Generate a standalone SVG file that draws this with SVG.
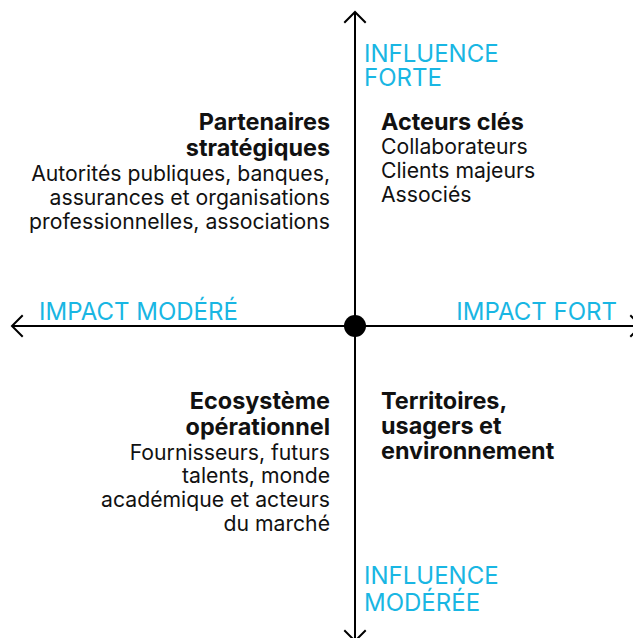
<svg xmlns="http://www.w3.org/2000/svg" width="633" height="638" viewBox="0 0 633 638">
<style>
.ax{stroke:#000;stroke-width:2;fill:none;stroke-linecap:square}
.lab{font-family:Inter,"Liberation Sans",sans-serif;font-size:24px;fill:#19b6e3}
.h{font-family:Inter,"Liberation Sans",sans-serif;font-size:23.4px;font-weight:700;fill:#111}
.t{font-family:Inter,"Liberation Sans",sans-serif;font-size:21.2px;fill:#111}
.r{text-anchor:end}
</style>
<rect width="633" height="638" fill="#fff"/>
<g id="connectors">
<line class="ax" x1="355" y1="13" x2="355" y2="640"/>
<line class="ax" x1="13" y1="326" x2="640" y2="326"/>
<polyline class="ax" points="345,22 355,12 365,22"/>
<polyline class="ax" points="345,631 355,641 365,631"/>
<polyline class="ax" points="22,316 12,326 22,336"/>
<polyline class="ax" points="631,316 641,326 631,336"/>
<circle cx="355" cy="326" r="11" fill="#000"/>
</g>
<g id="axis-labels">
<text class="lab" x="364" y="62">INFLUENCE</text>
<text class="lab" x="364" y="86">FORTE</text>
<text class="lab" x="364" y="584">INFLUENCE</text>
<text class="lab" x="364" y="611">MODÉRÉE</text>
<text class="lab" x="39" y="320">IMPACT MODÉRÉ</text>
<text class="lab r" x="617" y="320">IMPACT FORT</text>
</g>
<g id="partenaires">
<text class="h r" x="330" y="130">Partenaires</text>
<text class="h r" x="330" y="156">stratégiques</text>
<text class="t r" x="330" y="180.5">Autorités publiques, banques,</text>
<text class="t r" x="330" y="204.5">assurances et organisations</text>
<text class="t r" x="330" y="228.5">professionnelles, associations</text>
</g>
<g id="acteurs">
<text class="h" x="381" y="130">Acteurs clés</text>
<text class="t" x="381" y="154">Collaborateurs</text>
<text class="t" x="381" y="178">Clients majeurs</text>
<text class="t" x="381" y="202">Associés</text>
</g>
<g id="ecosysteme">
<text class="h r" x="330" y="409">Ecosystème</text>
<text class="h r" x="330" y="435">opérationnel</text>
<text class="t r" x="330" y="459.5">Fournisseurs, futurs</text>
<text class="t r" x="330" y="483">talents, monde</text>
<text class="t r" x="330" y="507">académique et acteurs</text>
<text class="t r" x="330" y="531">du marché</text>
</g>
<g id="territoires">
<text class="h" x="381" y="409">Territoires,</text>
<text class="h" x="381" y="434">usagers et</text>
<text class="h" x="381" y="459">environnement</text>
</g>
</svg>
